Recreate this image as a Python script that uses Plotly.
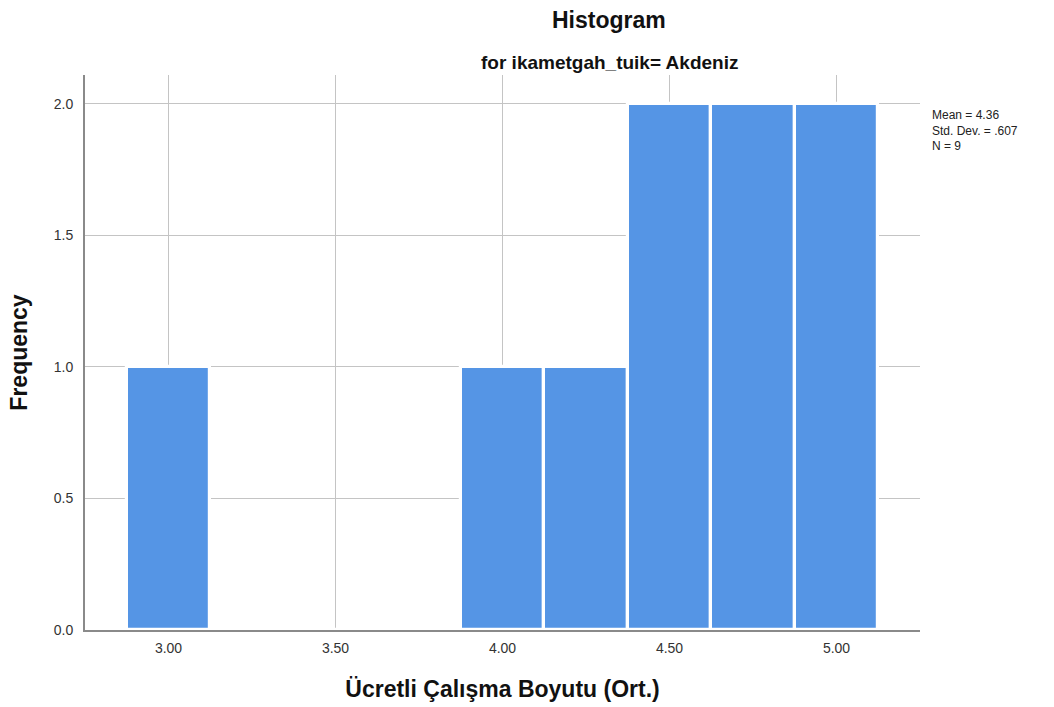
import plotly.graph_objects as go

bin_centers = [3.0, 3.25, 3.5, 3.75, 4.0, 4.25, 4.5, 4.75, 5.0]
counts = [1, 0, 0, 0, 1, 1, 2, 2, 2]
x_ticks = [3.0, 3.5, 4.0, 4.5, 5.0]
x_tick_labels = ["3.00", "3.50", "4.00", "4.50", "5.00"]
y_ticks = [0.0, 0.5, 1.0, 1.5, 2.0]
y_tick_labels = ["0.0", "0.5", "1.0", "1.5", "2.0"]
stats_text = "Mean = 4.36<br>Std. Dev. = .607<br>N = 9"

FONT = "Arial, Liberation Sans, sans-serif"

W, H = 1054, 707
ML, MT, MR, MB = 85, 75, 134, 77
plot_h = H - MT - MB
plot_w = W - ML - MR

fig = go.Figure()
fig.add_trace(go.Bar(
    x=bin_centers, y=counts, width=0.25,
    marker=dict(color="#5595E5", line=dict(color="#FFFFFF", width=3.2)),
    hoverinfo="x+y",
))

fig.update_layout(
    width=W, height=H,
    margin=dict(l=ML, r=MR, t=MT, b=MB, autoexpand=False),
    paper_bgcolor="white", plot_bgcolor="white",
    font=dict(family=FONT, color="#222222"),
    showlegend=False,
    bargap=0,
    xaxis=dict(
        range=[2.75, 5.25], tickvals=x_ticks, ticktext=x_tick_labels,
        showgrid=True, gridcolor="#C4C4C4", gridwidth=1,
        showline=True, linecolor="#8A8A8A", linewidth=2,
        ticks="", zeroline=False, ticklabelstandoff=4,
        tickfont=dict(size=14, family=FONT, color="#333333"),
        title=dict(text="<b>Ücretli Çalışma Boyutu (Ort.)</b>",
                   font=dict(size=23, family=FONT, color="#111111"), standoff=26),
    ),
    yaxis=dict(
        range=[0, 2.11], tickvals=y_ticks, ticktext=y_tick_labels,
        showgrid=True, gridcolor="#C4C4C4", gridwidth=1,
        showline=True, linecolor="#8A8A8A", linewidth=2,
        ticks="", zeroline=False, ticklabelstandoff=7,
        tickfont=dict(size=14, family=FONT, color="#333333"),
        title=dict(text="<b>Frequency</b>",
                   font=dict(size=23, family=FONT, color="#111111"), standoff=20),
    ),
    annotations=[
        dict(text="<b>Histogram</b>", xref="paper", yref="paper",
             x=(609 - ML) / plot_w, y=1 + (MT - 20) / plot_h, yanchor="middle",
             showarrow=False, font=dict(size=23, family=FONT, color="#111111")),
        dict(text="<b>for ikametgah_tuik= Akdeniz</b>", xref="paper", yref="paper",
             x=(609 - ML) / plot_w, y=1 + (MT - 62) / plot_h, yanchor="middle",
             showarrow=False, font=dict(size=19, family=FONT, color="#111111")),
        dict(text=stats_text, xref="paper", yref="paper",
             x=1 + (930 - 920) / plot_w, y=1 - (106 - MT) / plot_h,
             xanchor="left", yanchor="top", align="left", showarrow=False,
             font=dict(size=12, family=FONT, color="#222222")),
    ],
)

fig.write_html("out.html",
               config={"displayModeBar": False},
               post_script="document.body.style.margin='0';document.body.style.overflow='hidden';")
